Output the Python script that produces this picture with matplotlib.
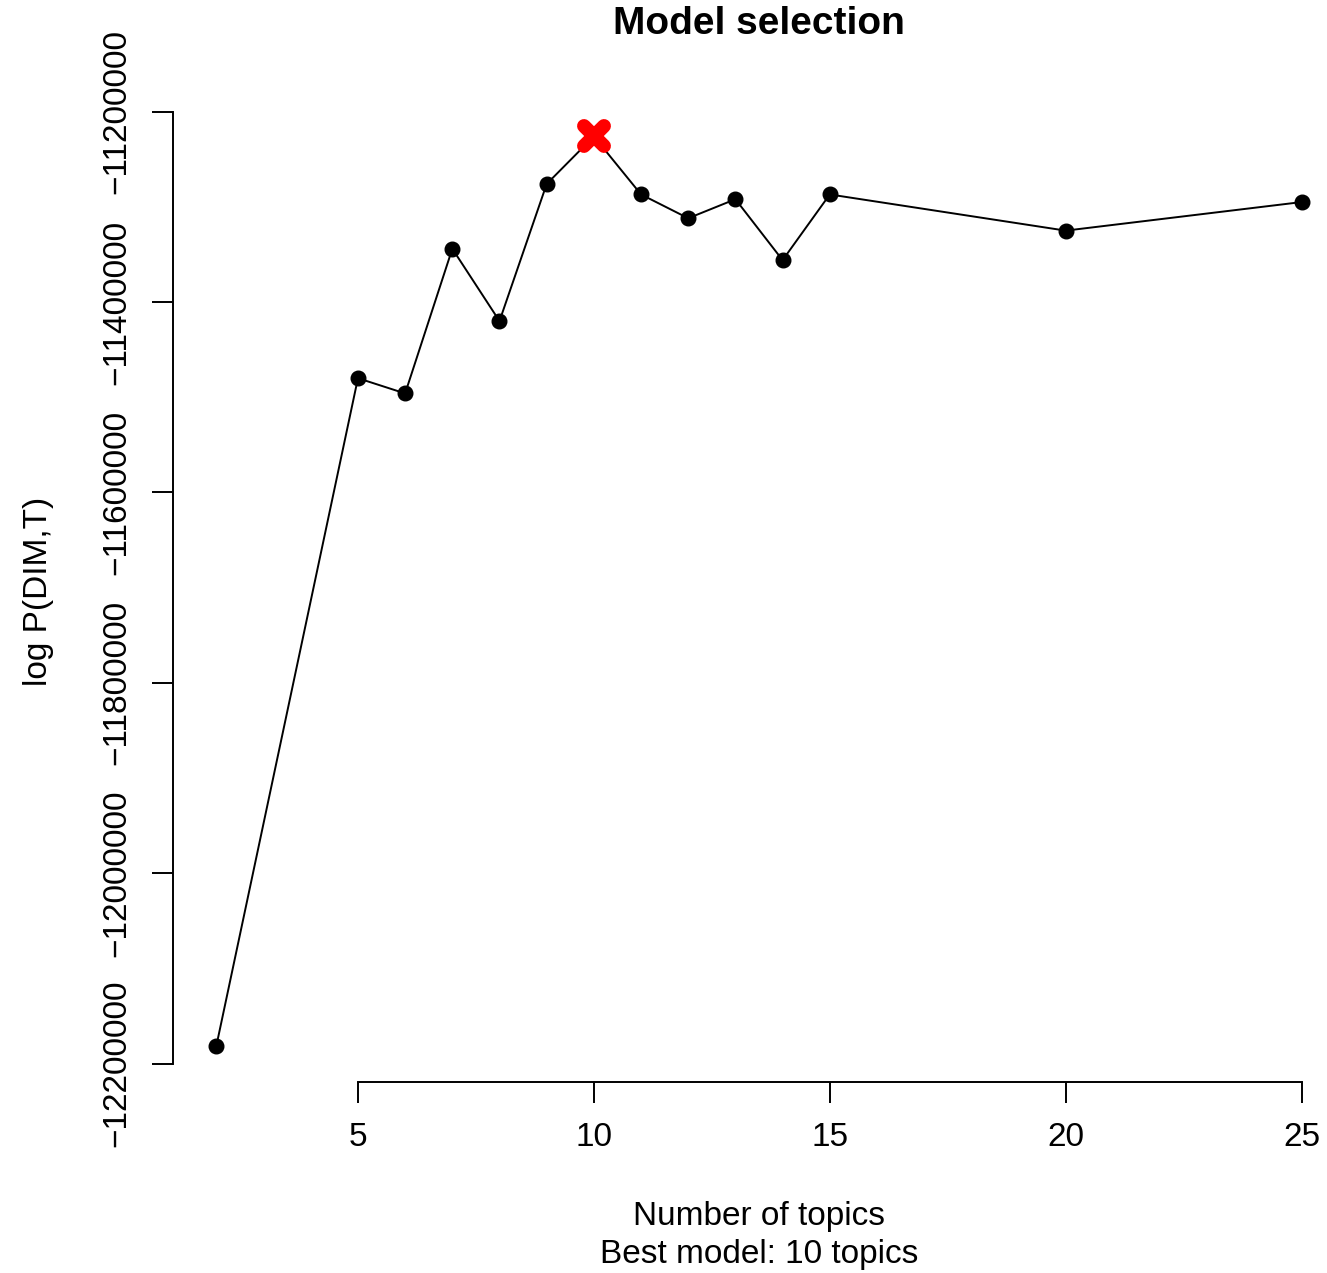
import numpy as np
import matplotlib
matplotlib.use('Agg')
import matplotlib.pyplot as plt
from matplotlib.markers import MarkerStyle

plt.rcParams['font.family'] = ['Liberation Sans', 'DejaVu Sans']

topicos = [2, 5, 6, 7, 8, 9, 10, 11, 12, 13, 14, 15, 20, 25]
log_p = [-12181000, -11480000, -11496000, -11344000, -11420000, -11276000,
         -11226000, -11287000, -11312000, -11292000, -11356000, -11287000,
         -11325000, -11295000]
x_ticks = [5, 10, 15, 20, 25]
y_ticks = [-12200000, -12000000, -11800000, -11600000, -11400000, -11200000]

W, H = 1327, 1273
fig = plt.figure(figsize=(W / 100, H / 100), dpi=100)
# regiao de plotagem ao estilo R (eixos com 4% de folga)
esq, dir_, topo, base = 173, 1345, 100, 1082
ax = fig.add_axes([esq / W, 1 - base / H, (dir_ - esq) / W, (base - topo) / H])

xr = max(topicos) - min(topicos)
yr = max(log_p) - min(log_p)
ax.set_xlim(min(topicos) - 0.04 * xr, max(topicos) + 0.04 * xr)
ax.set_ylim(min(log_p) - 0.04 * yr, max(log_p) + 0.04 * yr)

ax.plot(topicos, log_p, '-', color='black', linewidth=1.4, zorder=2)
ax.plot(topicos, log_p, 'o', color='black', markersize=10.5, zorder=3)

i_best = int(np.argmax(log_p))
ax.plot(topicos[i_best], log_p[i_best], linestyle='none', color='red',
        marker=MarkerStyle('x', capstyle='round'), markersize=14,
        markeredgewidth=10, zorder=4)

for lado in ['top', 'right']:
    ax.spines[lado].set_visible(False)
ax.spines['left'].set_bounds(y_ticks[0], y_ticks[-1])
ax.spines['bottom'].set_bounds(x_ticks[0], x_ticks[-1])
ax.spines['left'].set_linewidth(1.4)
ax.spines['bottom'].set_linewidth(1.4)

ax.set_xticks(x_ticks)
ax.set_xticklabels([str(v) for v in x_ticks])
ax.set_yticks(y_ticks)
ax.set_yticklabels(['\u2212' + str(abs(v)) for v in y_ticks], rotation=90, va='center')
ax.tick_params(axis='both', direction='out', length=15, width=1.4,
               labelsize=24, pad=14)

ax.set_ylabel('log P(DIM,T)', fontsize=24, labelpad=34)
centro = ((esq + dir_) / 2) / W
fig.text(centro, 1 - 24 / H, 'Model selection', ha='center', va='center',
         fontsize=28, fontweight='bold')
fig.text(centro, 1 - 1216 / H, 'Number of topics',
         ha='center', va='center', fontsize=24)
fig.text(centro, 1 - 1254 / H, 'Best model: 10 topics',
         ha='center', va='center', fontsize=24)

fig.savefig('out.png', dpi=100)
